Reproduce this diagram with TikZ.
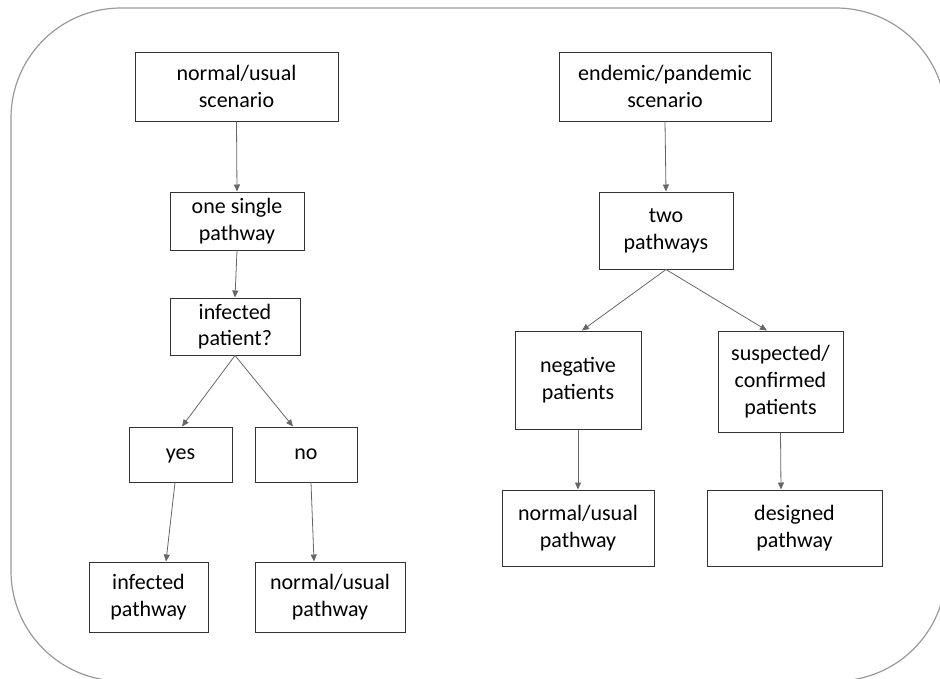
\documentclass[tikz,border=0pt]{standalone}
\usepackage{fontspec}
\setmainfont{Carlito}
\usepackage{xcolor}
\usepackage{tikz}
\usetikzlibrary{shapes,arrows.meta,positioning}

\tikzset{
    box/.style={
        draw=black!80,
        line width=1pt,
        align=center,
        inner sep=0pt,
        font=\fontsize{22}{26.7}\selectfont
    },
    link/.style={
        ->,
        draw=black!60,
        line width=0.8pt
    }
}

\begin{document}
\begin{tikzpicture}[x=1pt, y=-1pt, >={Triangle[length=7pt,width=6pt]}]
                \useasboundingbox (0,0) rectangle (940,678);

                \begin{scope}
                \clip (0,0) rectangle (940,678);
                \draw[
                    line width=1.2pt,
                    draw=black!40,
                    rounded corners=110pt
                    ] (11,8) rectangle (946,681);
                \end{scope}

                % normal / usual side
                \node[box, minimum width=203, minimum height=69] (normalscen) at (236.5,86.5) {normal/usual\\scenario};
                \node[box, minimum width=134, minimum height=58] (single) at (237,221) {one single\\pathway};
                \node[box, minimum width=130, minimum height=57] (infected) at (235,326.5) {infected\\patient?};
                \node[box, minimum width=103, minimum height=55] (yes) at (180.5,454.5) {\strut yes};
                \node[box, minimum width=102, minimum height=55] (no) at (306,454.5) {\strut no};
                \node[box, minimum width=119, minimum height=70] (infpath) at (148.5,597) {infected\\pathway};
                \node[box, minimum width=150, minimum height=70] (normpathL) at (330,597) {normal/usual\\pathway};

                % endemic / pandemic side
                \node[box, minimum width=212, minimum height=69] (endemicscen) at (665,86.5) {endemic/pandemic\\scenario};
                \node[box, minimum width=134, minimum height=77] (two) at (666,230.5) {two\\pathways};
                \node[box, minimum width=126, minimum height=98] (negative) at (578,380) {negative\\patients};
                \node[box, minimum width=125, minimum height=101] (suspected) at (780.5,381.5) {suspected/\\confirmed\\patients};
                \node[box, minimum width=152, minimum height=76] (normpathR) at (578,528) {normal/usual\\pathway};
                \node[box, minimum width=175, minimum height=76] (designed) at (794.5,528) {designed\\pathway};

                \draw[link] (normalscen.south) to (single.north);
                \draw[link] (single.south) to (infected.north);
                \draw[link] (infected.south) to ([xshift=1.5]yes.north);
                \draw[link] (infected.south) to ([xshift=-13]no.north);
                \draw[link] ([xshift=-5.5]yes.south) to ([xshift=17.5]infpath.north);
                \draw[link] ([xshift=5]no.south) to ([xshift=-16]normpathL.north);

                \draw[link] (endemicscen.south) to (two.north);
                \draw[link] (two.south) to ([xshift=4]negative.north);
                \draw[link] (two.south) to ([xshift=-13.5]suspected.north);
                \draw[link] (negative.south) to (normpathR.north);
                \draw[link] (suspected.south) to ([xshift=-13.5]designed.north);

            \end{tikzpicture}
\end{document}
